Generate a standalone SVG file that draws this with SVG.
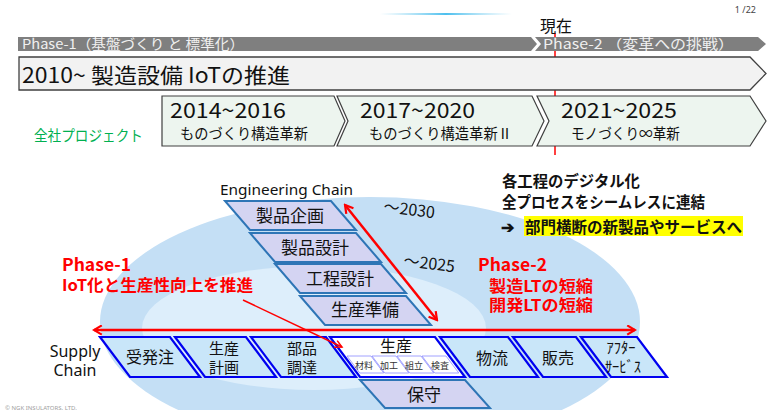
<svg xmlns="http://www.w3.org/2000/svg" width="768" height="410" viewBox="0 0 768 410">
<defs>
<linearGradient id="topline" x1="0" x2="1" y1="0" y2="0">
<stop offset="0" stop-color="#7fd0f0" stop-opacity="0"/>
<stop offset="0.5" stop-color="#4cbfee"/>
<stop offset="1" stop-color="#7fd0f0" stop-opacity="0"/>
</linearGradient>
<marker id="ah" viewBox="0 0 12 12" refX="10" refY="6" markerWidth="11" markerHeight="11" markerUnits="userSpaceOnUse" orient="auto-start-reverse">
<path d="M1.5,1 L10,6 L1.5,11" fill="none" stroke="#ff0000" stroke-width="2.4"/>
</marker>
<marker id="ahs" viewBox="0 0 12 12" refX="10" refY="6" markerWidth="10" markerHeight="10" markerUnits="userSpaceOnUse" orient="auto">
<path d="M1.5,1.5 L10,6 L1.5,10.5" fill="none" stroke="#ff0000" stroke-width="1.8"/>
</marker>
</defs>
<style>
.jp{font-family:'Noto Sans CJK JP','Noto Sans',sans-serif}
.lat{font-family:'Noto Sans','Liberation Sans',sans-serif}
.phase{fill:#7f7f7f}
.ptxt{fill:#f0f0f0;font-size:13.5px}
.chev{fill:#edf5ef;stroke:#404040;stroke-width:1.2}
.eng{fill:#d4d4f2;stroke:#2e75b6;stroke-width:2}
.sup{fill:#c9e6f9;stroke:#0000f0;stroke-width:2.2}
.sub{fill:#ffffff;stroke:#8c8cff;stroke-width:0.8}
.t15{font-size:15px;fill:#111}
.t16{font-size:16px;fill:#111}
.t17{font-size:17px;fill:#111}
.red{fill:#ff0000;font-weight:bold}
.blk{fill:#111;font-weight:bold;font-size:15.5px}
.mid{text-anchor:middle}
</style>

<!-- background decorations -->
<rect x="380" y="13" width="132" height="2" fill="url(#topline)"/>
<text x="756" y="13" class="lat" font-size="9" fill="#444" text-anchor="end">1 /22</text>
<text x="5" y="410" class="lat" font-size="6" fill="#a0a0a0">© NGK INSULATORS, LTD.</text>

<ellipse cx="370" cy="322" rx="270" ry="125" fill="#c4dff5"/>
<ellipse cx="314" cy="328" rx="172" ry="62" fill="#ddeefb"/>

<!-- current-time line -->
<g id="now">
<line x1="555" y1="33" x2="555" y2="155" stroke="#ff0000" stroke-width="1.5"/>
<text x="556" y="32" class="jp t16 mid">現在</text>
</g>

<g id="phase1">
<polygon class="phase" points="18,37 531,37 537,44 531,51 18,51"/>
<text x="22" y="48.5" class="jp ptxt" textLength="222" lengthAdjust="spacingAndGlyphs">Phase-1（基盤づくり と 標準化）</text>
</g>
<g id="phase2">
<polygon class="phase" points="535,37 758,37 766,44 758,51 535,51 541,44"/>
<text x="543" y="48.5" class="jp ptxt" textLength="191" lengthAdjust="spacingAndGlyphs">Phase-2 （変革への挑戦）</text>
</g>

<g id="iot2010">
<polygon points="19,57 750,57 766,73.5 750,90 19,90" fill="#f2f2f2" stroke="#404040" stroke-width="1.3"/>
<text x="22" y="83" class="jp" font-size="21" fill="#111" textLength="268" lengthAdjust="spacingAndGlyphs">2010~  製造設備  IoTの推進</text>
</g>

<g id="zensha">
<text x="34" y="141" class="jp" font-size="15" fill="#00b050" textLength="109" lengthAdjust="spacingAndGlyphs">全社プロジェクト</text>
</g>

<g id="proj2014">
<polygon class="chev" points="162,96 334,96 345,121 334,146 162,146"/>
<text x="170" y="118" class="jp" font-size="21" fill="#111" textLength="116" lengthAdjust="spacingAndGlyphs">2014~2016</text>
<text x="180" y="139" class="jp" font-size="15" fill="#111" textLength="128" lengthAdjust="spacingAndGlyphs">ものづくり構造革新</text>
</g>
<g id="proj2017">
<polygon class="chev" points="337,96 532,96 544,121 532,146 337,146 348,121"/>
<text x="360" y="118" class="jp" font-size="21" fill="#111" textLength="115" lengthAdjust="spacingAndGlyphs">2017~2020</text>
<text x="369" y="139" class="jp" font-size="15" fill="#111" textLength="143" lengthAdjust="spacingAndGlyphs">ものづくり構造革新Ⅱ</text>
</g>
<g id="proj2021">
<polygon class="chev" points="537,96 750,96 766,121 750,146 537,146 549,121"/>
<text x="561" y="118" class="jp" font-size="21" fill="#111" textLength="116" lengthAdjust="spacingAndGlyphs">2021~2025</text>
<text x="571" y="139" class="jp" font-size="15" fill="#111" textLength="109" lengthAdjust="spacingAndGlyphs">モノづくり∞革新</text>
</g>

<!-- engineering chain -->
<g id="engineering-chain-label">
<text x="220" y="195" class="lat" font-size="15" fill="#111" textLength="133" lengthAdjust="spacingAndGlyphs">Engineering Chain</text>
</g>
<g id="seihin-kikaku">
<polygon class="eng" points="225,201 331,201 356,230 250,230"/>
<text x="290" y="222" class="jp t17 mid">製品企画</text>
</g>
<g id="seihin-sekkei">
<polygon class="eng" points="250,233 356,233 381,262 275,262"/>
<text x="315" y="254" class="jp t17 mid">製品設計</text>
</g>
<g id="koutei-sekkei">
<polygon class="eng" points="275,264 381,264 406,293 300,293"/>
<text x="340" y="285" class="jp t17 mid">工程設計</text>
</g>
<g id="seisan-junbi">
<polygon class="eng" points="300,296 406,296 431,325 325,325"/>
<text x="365" y="316" class="jp t17 mid">生産準備</text>
</g>

<!-- supply chain -->
<g id="supply-chain-label">
<text x="75" y="357" class="lat t16 mid">Supply</text>
<text x="75" y="376" class="lat t16 mid">Chain</text>
</g>
<g id="juhatchu">
<polygon class="sup" points="100,337 170,337 200,377 130,377"/>
<text x="150" y="363" class="jp t16 mid">受発注</text>
</g>
<g id="seisan-keikaku">
<polygon class="sup" points="175,337 246,337 276,377 205,377"/>
<text x="224" y="354" class="jp t15 mid">生産</text>
<text x="224" y="373" class="jp t15 mid">計画</text>
</g>
<g id="buhin-chotatsu">
<polygon class="sup" points="251,337 326,337 356,377 281,377"/>
<text x="302" y="354" class="jp t15 mid">部品</text>
<text x="302" y="373" class="jp t15 mid">調達</text>
</g>
<g id="seisan">
<polygon class="sup" style="fill:#ffffff" points="330,337 435,337 465,377 360,377"/>
<text x="396" y="352" class="jp t16 mid">生産</text>
<polygon class="sub" points="347,356 371,356 383.75,373 359.75,373"/>
<polygon class="sub" points="372,356 396,356 408.75,373 384.75,373"/>
<polygon class="sub" points="397,356 421,356 433.75,373 409.75,373"/>
<polygon class="sub" points="422,356 446,356 458.75,373 434.75,373"/>
<text x="364" y="369" class="jp mid" font-size="9" fill="#333">材料</text>
<text x="389" y="369" class="jp mid" font-size="9" fill="#333">加工</text>
<text x="414" y="369" class="jp mid" font-size="9" fill="#333">組立</text>
<text x="440" y="369" class="jp mid" font-size="9" fill="#333">検査</text>
</g>
<g id="hoshu">
<polygon class="eng" points="360,380 465,380 490,408 385,408"/>
<text x="424" y="401" class="jp t17 mid">保守</text>
</g>
<g id="butsuryu">
<polygon class="sup" points="440,337 508,337 538,377 470,377"/>
<text x="492" y="364" class="jp t16 mid">物流</text>
</g>
<g id="hanbai">
<polygon class="sup" points="513,337 576,337 606,377 543,377"/>
<text x="558" y="364" class="jp t16 mid">販売</text>
</g>
<g id="after-service">
<polygon class="sup" points="581,337 637,337 667,377 611,377"/>
<text x="621" y="353" class="jp mid" font-size="14.5" fill="#111">ｱﾌﾀｰ</text>
<text x="623" y="372" class="jp mid" font-size="14.5" fill="#111">ｻｰﾋﾞｽ</text>
</g>

<!-- annotations -->
<g id="phase1-note">
<text x="62" y="271" class="jp red" font-size="17.5">Phase-1</text>
<text x="62" y="291" class="jp red" font-size="16" textLength="191" lengthAdjust="spacingAndGlyphs">IoT化と生産性向上を推進</text>
</g>
<g id="phase2-note">
<text x="478" y="271" class="jp red" font-size="17.5">Phase-2</text>
<text x="489" y="292" class="jp red" font-size="15.5" textLength="104" lengthAdjust="spacingAndGlyphs">製造LTの短縮</text>
<text x="489" y="311" class="jp red" font-size="15.5" textLength="104" lengthAdjust="spacingAndGlyphs">開発LTの短縮</text>
</g>
<g id="digital-note">
<text x="502" y="187" class="jp blk" textLength="138" lengthAdjust="spacingAndGlyphs">各工程のデジタル化</text>
<text x="502" y="208" class="jp blk" textLength="203" lengthAdjust="spacingAndGlyphs">全プロセスをシームレスに連結</text>
<text x="501" y="233" class="jp blk">➔</text>
<rect x="524" y="216" width="219" height="20" fill="#ffff00"/>
<text x="525" y="233" class="jp blk" textLength="217" lengthAdjust="spacingAndGlyphs">部門横断の新製品やサービスへ</text>
</g>
<g id="year-labels">
<text x="383" y="212" class="jp" font-size="16" fill="#111" transform="rotate(7 383 212)">～2030</text>
<text x="403" y="266" class="jp" font-size="16" fill="#111" transform="rotate(7 403 266)">～2025</text>
</g>

<!-- connectors -->
<g id="connectors" fill="none" stroke="#ff0000">
<line x1="345" y1="205" x2="437" y2="320" stroke-width="2.5" marker-start="url(#ah)" marker-end="url(#ah)"/>
<line x1="94" y1="330" x2="635" y2="330" stroke-width="2.5" marker-start="url(#ah)" marker-end="url(#ah)"/>
<line x1="243" y1="300" x2="342" y2="347" stroke-width="1.5" marker-end="url(#ahs)"/>
</g>
</svg>
